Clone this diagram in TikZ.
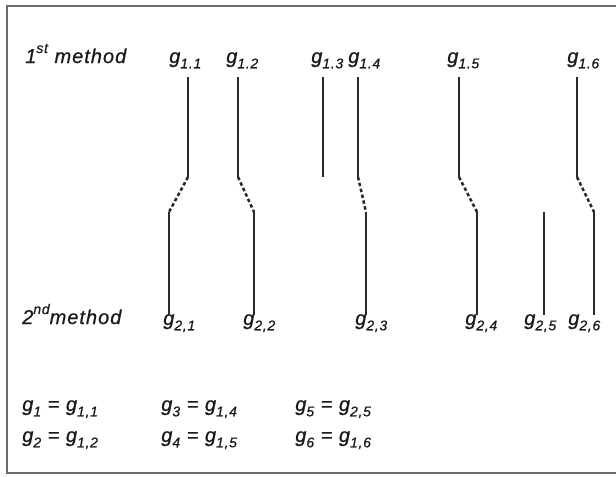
\documentclass[tikz,border=0pt]{standalone}
\usepackage{fontspec}
\setmainfont{Liberation Sans}[LetterSpace=5, ItalicFeatures={FakeBold=0.7}]
\definecolor{ink}{HTML}{1A1A1A}
\definecolor{barc}{HTML}{2A2A2A}
\definecolor{framec}{HTML}{6A6A6A}
% lowered index of a symbol
\newcommand\idx[1]{\raisebox{-0.5ex}{\fontsize{10.5}{11}\selectfont #1}}
% raised ordinal suffix
\newcommand\ordsfx[1]{\raisebox{0.95ex}{\fontsize{10.5}{11}\selectfont #1}}
\begin{document}
\begin{tikzpicture}[x=0.75pt,y=-0.75pt,
  txt/.style={inner sep=0pt, anchor=base west, text=ink,
              font=\fontsize{15}{18}\selectfont\itshape},
  bar/.style={draw=barc, line width=1.9pt},
  link/.style={draw=barc, line width=1.9pt, dash pattern=on 2.6pt off 1.9pt},
  frame/.style={draw=framec, line width=1.1pt}]
\useasboundingbox (0,0) rectangle (616,476);
\draw[frame] (620,6) -- (7,6) -- (7,473) -- (620,473);

% row headings
\node[txt] (h1) at (25,63) {1\ordsfx{st} method};
\node[txt] (h2) at (22,324) {2\ordsfx{nd}method};

% labels of the first method
\node[txt] (a1) at (169,63) {g\idx{1.1}};
\node[txt] (a2) at (226,63) {g\idx{1.2}};
\node[txt] (a3) at (311,63) {g\idx{1.3}};
\node[txt] (a4) at (348,63) {g\idx{1.4}};
\node[txt] (a5) at (447,63) {g\idx{1.5}};
\node[txt] (a6) at (567,63) {g\idx{1.6}};

% labels of the second method
\node[txt] (c1) at (163,325) {g\idx{2,1}};
\node[txt] (c2) at (243,325) {g\idx{2,2}};
\node[txt] (c3) at (355,325) {g\idx{2,3}};
\node[txt] (c4) at (465,325) {g\idx{2,4}};
\node[txt] (c5) at (524,325) {g\idx{2,5}};
\node[txt] (c6) at (568,325) {g\idx{2,6}};

% resulting assignment
\node[txt] (e1) at (22,411)  {g\idx{1} = g\idx{1,1}};
\node[txt] (e2) at (22,442)  {g\idx{2} = g\idx{1,2}};
\node[txt] (e3) at (161,411) {g\idx{3} = g\idx{1,4}};
\node[txt] (e4) at (161,442) {g\idx{4} = g\idx{1,5}};
\node[txt] (e5) at (295,411) {g\idx{5} = g\idx{2,5}};
\node[txt] (e6) at (295,442) {g\idx{6} = g\idx{1,6}};

% segment end points, first method
\coordinate (t1) at (188,77);  \coordinate (m1) at (188,177);
\coordinate (t2) at (238,77);  \coordinate (m2) at (238,177);
\coordinate (t3) at (323,77);  \coordinate (m3) at (323,177);
\coordinate (t4) at (358,77);  \coordinate (m4) at (358,177);
\coordinate (t5) at (459,77);  \coordinate (m5) at (459,177);
\coordinate (t6) at (577,77);  \coordinate (m6) at (577,177);
% segment end points, second method
\coordinate (n1) at (169,212); \coordinate (b1) at (169,315);
\coordinate (n2) at (254,212); \coordinate (b2) at (254,315);
\coordinate (n3) at (366,212); \coordinate (b3) at (366,315);
\coordinate (n4) at (477,212); \coordinate (b4) at (477,315);
\coordinate (n5) at (544,212); \coordinate (b5) at (544,315);
\coordinate (n6) at (594,212); \coordinate (b6) at (594,315);

\foreach \i in {1,...,6} {
  \draw[bar] (t\i) -- (m\i);
  \draw[bar] (n\i) -- (b\i);
}
% correspondences between the two methods
\draw[link] (m1) -- (n1);
\draw[link] (m2) -- (n2);
\draw[link] (m4) -- (n3);
\draw[link] (m5) -- (n4);
\draw[link] (m6) -- (n6);
\end{tikzpicture}
\end{document}
